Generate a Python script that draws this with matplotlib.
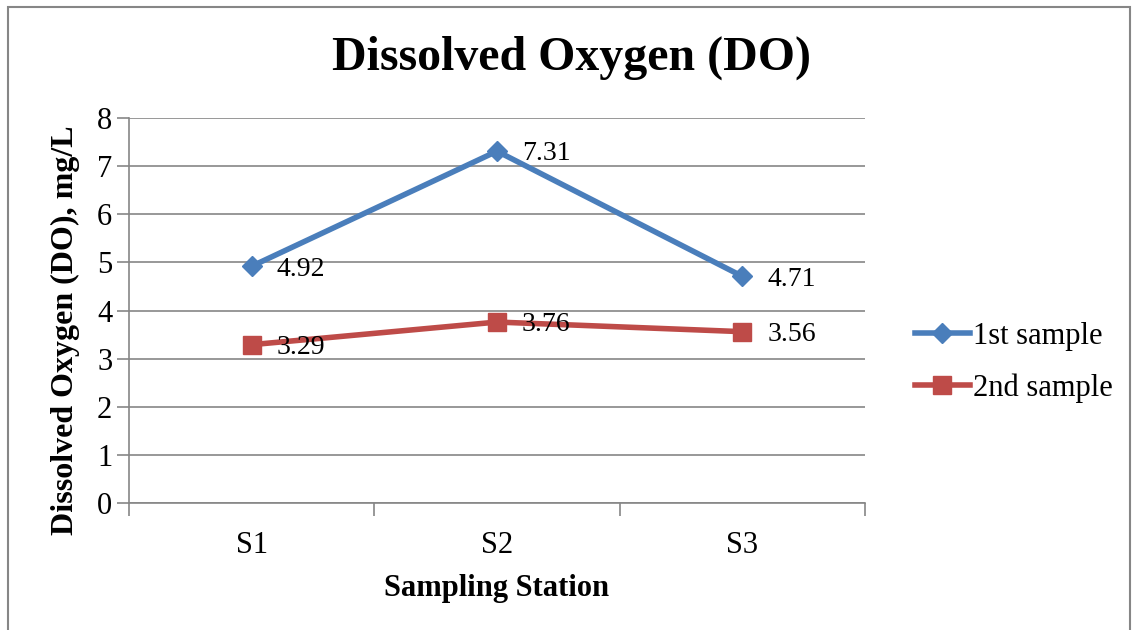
import numpy as np
import matplotlib.pyplot as plt
from matplotlib.patches import Rectangle

plt.rcParams['font.family'] = ['Liberation Serif', 'DejaVu Serif']

stations = ['S1', 'S2', 'S3']
do_first = [4.92, 7.31, 4.71]
do_second = [3.29, 3.76, 3.56]

fig = plt.figure(figsize=(11.34, 6.3), dpi=100)
ax = fig.add_axes([129/1134, 1 - 503/630, (865-129)/1134, (503-118)/630])

x = np.arange(len(stations))
ax.plot(x, do_first, color='#4A7EBB', lw=4, marker='D', ms=10, label='1st sample')
ax.plot(x, do_second, color='#BE4B48', lw=4, marker='s', ms=13, label='2nd sample')

# value labels to the right of each point
for series in (do_first, do_second):
    for xi, v in zip(x, series):
        ax.annotate(f'{v:.2f}', (xi, v), xytext=(18, -2), textcoords='offset points',
                    fontsize=20, va='center', ha='left')

ax.set_xlim(-0.5, 2.5)
ax.set_ylim(0, 8)
ax.set_yticks(range(0, 9))
ax.set_xticks(x)
ax.set_xticklabels(stations)
ax.set_xticks([-0.5, 0.5, 1.5, 2.5], minor=True)
ax.tick_params(axis='x', which='major', length=0, labelsize=22, pad=20)
ax.tick_params(axis='x', which='minor', length=9, width=1.2, color='#868686')
ax.tick_params(axis='y', length=9, width=1.2, color='#868686', labelsize=22, pad=3)
ax.grid(axis='y', color='#868686', lw=1.2)
for side in ['top', 'right']:
    ax.spines[side].set_visible(False)
for side in ['left', 'bottom']:
    ax.spines[side].set_color('#868686')
    ax.spines[side].set_linewidth(1.2)

ax.set_xlabel('Sampling Station', fontsize=22, fontweight='bold', labelpad=10)
ax.set_ylabel('Dissolved Oxygen (DO), mg/L', fontsize=23, fontweight='bold')
ax.yaxis.set_label_coords(-0.067, 0.45)
fig.text(572/1134, 1 - 58/630, 'Dissolved Oxygen (DO)', fontsize=34.5, fontweight='bold',
         ha='center', va='center')

ax.legend(loc='center left', bbox_to_anchor=(1.03, 0.365), frameon=False, fontsize=22,
          handlelength=1.8, labelspacing=0.75, handletextpad=0.1)

fig.patches.append(Rectangle((8/1134, -0.05), 1122/1134, 1.05 - 7/630, transform=fig.transFigure,
                             fill=False, edgecolor='#868686', lw=1.5))

fig.savefig('out.png', dpi=100)
